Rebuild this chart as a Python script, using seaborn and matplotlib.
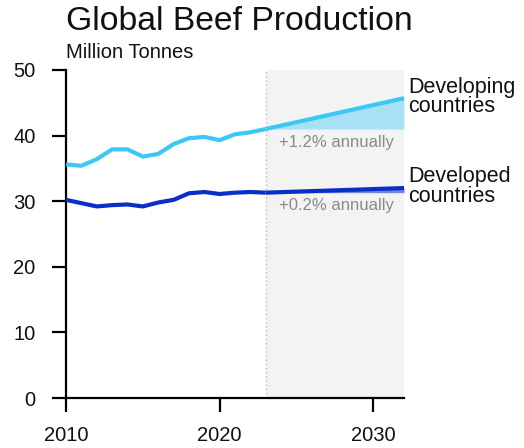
import numpy as np
import pandas as pd
import matplotlib
matplotlib.use("Agg")
import matplotlib.pyplot as plt
import seaborn as sns

years_hist = [2010, 2011, 2012, 2013, 2014, 2015, 2016, 2017, 2018, 2019, 2020, 2021, 2022, 2023]
developing_hist = [35.6, 35.4, 36.4, 37.9, 37.9, 36.8, 37.2, 38.7, 39.6, 39.8, 39.3, 40.2, 40.5, 41.0]
developed_hist = [30.2, 29.7, 29.2, 29.4, 29.5, 29.2, 29.8, 30.2, 31.2, 31.4, 31.1, 31.3, 31.4, 31.3]

years_proj = [2023, 2032]
developing_proj = [41.0, 45.7]
developed_proj = [31.3, 32.0]

series_labels = ["Developing\ncountries", "Developed\ncountries"]
growth_labels = ["+1.2% annually", "+0.2% annually"]
title = "Global Beef Production"
subtitle = "Million Tonnes"
yticks = [0, 10, 20, 30, 40, 50]
xticks = [2010, 2020, 2030]

c_dev = "#3cc8f5"
c_dev_fill = "#a8e1f5"
c_dvd = "#0a2ec8"
c_dvd_fill = "#6f86dd"

sns.set_style("white")
plt.rcParams["font.family"] = ["Liberation Sans", "DejaVu Sans"]

fig = plt.figure(figsize=(5.24, 4.48), dpi=100)
ax = fig.add_axes([0.126, 0.1116, 0.645, 0.7322])

# projection shading
ax.axvspan(2023, 2032, color="#f3f3f3", zorder=0, lw=0)
ax.axvline(2023, color="#b8b8b8", lw=1, ls=(0, (1, 2)), zorder=1)

hist = pd.DataFrame({"year": years_hist * 2,
                     "value": developing_hist + developed_hist,
                     "series": ["Developing"] * len(years_hist) + ["Developed"] * len(years_hist)})
proj = pd.DataFrame({"year": years_proj * 2,
                     "value": developing_proj + developed_proj,
                     "series": ["Developing"] * 2 + ["Developed"] * 2})
pal = {"Developing": c_dev, "Developed": c_dvd}

ax.fill_between(years_proj, [developing_proj[0]] * 2, developing_proj, color=c_dev_fill, lw=0, zorder=2)
ax.fill_between(years_proj, [developed_proj[0]] * 2, developed_proj, color=c_dvd_fill, lw=0, zorder=2)

sns.lineplot(data=hist, x="year", y="value", hue="series", palette=pal, lw=3,
             legend=False, ax=ax, zorder=3, solid_capstyle="butt")
sns.lineplot(data=proj, x="year", y="value", hue="series", palette=pal, lw=3,
             legend=False, ax=ax, zorder=3, solid_capstyle="butt")

ax.set_xlim(2010, 2032)
ax.set_ylim(0, 50)
ax.set_xticks(xticks)
ax.set_yticks(yticks)
ax.set_xlabel("")
ax.set_ylabel("")
for s in ["top", "right"]:
    ax.spines[s].set_visible(False)
for s in ["left", "bottom"]:
    ax.spines[s].set_color("black")
    ax.spines[s].set_linewidth(1.6)
ax.tick_params(axis="both", direction="out", length=10, width=1.6, color="black",
               labelsize=14.5, labelcolor="#111111", left=True, bottom=True)
ax.tick_params(axis="y", pad=12)
ax.tick_params(axis="x", pad=10)

# end labels
ax.text(1.012, 45.9, series_labels[0], transform=ax.get_yaxis_transform(),
        fontsize=15.5, va="center", ha="left", color="#111111", linespacing=0.92)
ax.text(1.012, 32.2, series_labels[1], transform=ax.get_yaxis_transform(),
        fontsize=15.5, va="center", ha="left", color="#111111", linespacing=0.92)
ax.text(2023.85, 38.9, growth_labels[0], fontsize=12, color="#8a8a8a", va="center", ha="left")
ax.text(2023.85, 29.3, growth_labels[1], fontsize=12, color="#8a8a8a", va="center", ha="left")

fig.text(0.126, 0.951, title, fontsize=24.3, ha="left", va="center", color="#111111")
fig.text(0.126, 0.882, subtitle, fontsize=14.5, ha="left", va="center", color="#111111")

fig.savefig("out.png", dpi=100)
